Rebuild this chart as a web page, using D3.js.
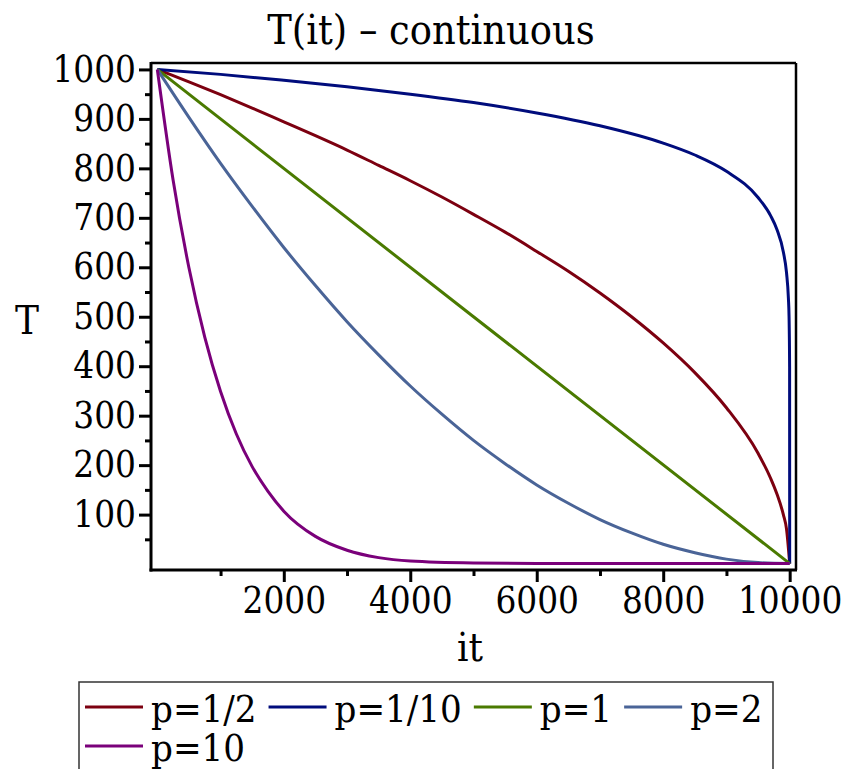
<!DOCTYPE html>
<html><head><meta charset="utf-8">
<script src="https://cdn.jsdelivr.net/npm/d3@7"></script>
<style>
body{margin:0;background:#fff}
svg{display:block}
text{font-family:"DejaVu Serif Condensed","DejaVu Serif",serif;fill:#000}
</style>
</head><body>
<svg id="chart" width="842" height="769"></svg>
<script>
// ---- data ----
const seriesNames  = ["p=1/2", "p=1/10", "p=1", "p=2", "p=10"];
const seriesColors = ["#7c0010", "#000c7c", "#4a7a00", "#4a6497", "#7a007a"];

const itHalf  = [0,500,1000,1500,2000,2500,3000,3500,4000,4500,5000,5500,6000,6500,7000,7500,8000,8500,9000,9500,9700,9800,9900,9950,10000];
const THalf   = [1000,975,949,922,894,866,837,806,775,742,707,671,632,592,548,500,447,387,316,224,173,141,100,71,1];

const itTenth = [0,1000,2000,3000,4000,5000,6000,7000,8000,8500,9000,9500,9700,9800,9900,9950,9980,9990,9999,10000];
const TTenth  = [1000,990,978,965,950,933,912,886,851,827,794,741,704,676,631,589,537,501,398,1];

const itOne   = [0,5000,10000];
const TOne    = [1000,500,1];

const itTwo   = [0,500,1000,1500,2000,2500,3000,3500,4000,4500,5000,5500,6000,6500,7000,7500,8000,8500,9000,9500,10000];
const TTwo    = [1000,903,810,723,640,563,490,423,360,303,250,203,160,123,90,63,40,23,10,3,1];

const itTen   = [0,250,500,750,1000,1250,1500,1750,2000,2500,3000,3500,4000,5000,6000,7000,8000,9000,10000];
const TTen    = [1000,776,599,459,349,263,197,147,107,56,28,13,6,2,1,1,1,1,1];

const xMajorTicks = [2000,4000,6000,8000,10000];
const xMinorTicks = [1000,3000,5000,7000,9000];
const yMajorTicks = [100,200,300,400,500,600,700,800,900,1000];
const yMinorTicks = [50,150,250,350,450,550,650,750,850,950];

const titleText = "T(it) – continuous";
const xLabel = "it";
const yLabel = "T";

// ---- layout ----
const svg = d3.select("#chart");
const L = 151, R = 796, Tp = 63, B = 570;
const x = d3.scaleLinear().domain([-100, 10100]).range([L, R]);
const y = d3.scaleLinear().domain([-12, 1013]).range([B, Tp]);

const series = [
  {xs: itHalf, ys: THalf},
  {xs: itTenth, ys: TTenth},
  {xs: itOne, ys: TOne},
  {xs: itTwo, ys: TTwo},
  {xs: itTen, ys: TTen}
].map((s, i) => ({name: seriesNames[i], color: seriesColors[i],
                  pts: s.xs.map((v, j) => [v, s.ys[j]])}));

// title
svg.append("text").attr("x", 431).attr("y", 44).attr("text-anchor", "middle")
  .style("font-size", "41px").text(titleText);

// curves
const line = d3.line().x(d => x(d[0])).y(d => y(d[1])).curve(d3.curveMonotoneX);
svg.append("clipPath").attr("id", "pc").append("rect")
  .attr("x", L).attr("y", Tp).attr("width", R - L).attr("height", B - Tp);
svg.append("g").attr("clip-path", "url(#pc)").selectAll("path").data(series).join("path")
  .attr("d", d => line(d.pts)).attr("fill", "none").attr("stroke", d => d.color)
  .attr("stroke-width", 3).attr("stroke-linejoin", "round");

// axes
const yAxis = d3.axisLeft(y).tickValues(yMajorTicks).tickSize(12).tickPadding(3).tickFormat(d3.format("d"));
const yMinor = d3.axisLeft(y).tickValues(yMinorTicks).tickSize(6).tickFormat("");
const xAxis = d3.axisBottom(x).tickValues(xMajorTicks).tickSize(12).tickPadding(5).tickFormat(d3.format("d"));
const xMinor = d3.axisBottom(x).tickValues(xMinorTicks).tickSize(6).tickFormat("");

function styleAxis(g) {
  g.select(".domain").remove();
  g.selectAll(".tick line").attr("stroke", "#000").attr("stroke-width", 3);
  g.selectAll(".tick text").style("font-size", "36.5px").attr("fill", "#000");
}
svg.append("g").attr("transform", `translate(${L},0)`).call(yAxis).call(styleAxis);
svg.append("g").attr("transform", `translate(${L},0)`).call(yMinor).call(styleAxis);
svg.append("g").attr("transform", `translate(0,${B})`).call(xAxis).call(styleAxis);
svg.append("g").attr("transform", `translate(0,${B})`).call(xMinor).call(styleAxis);

// frame
svg.append("line").attr("x1", L).attr("x2", R).attr("y1", Tp).attr("y2", Tp).attr("stroke", "#000").attr("stroke-width", 2.5);
svg.append("line").attr("x1", R).attr("x2", R).attr("y1", Tp).attr("y2", B).attr("stroke", "#000").attr("stroke-width", 2.5);
svg.append("line").attr("x1", L).attr("x2", L).attr("y1", Tp - 1).attr("y2", B + 1.5).attr("stroke", "#000").attr("stroke-width", 3);
svg.append("line").attr("x1", L - 1.5).attr("x2", R + 1).attr("y1", B).attr("y2", B).attr("stroke", "#000").attr("stroke-width", 3);

// axis labels
svg.append("text").attr("x", 27).attr("y", 334).attr("text-anchor", "middle").style("font-size", "40px").text(yLabel);
svg.append("text").attr("x", 470).attr("y", 661).attr("text-anchor", "middle").style("font-size", "40px").text(xLabel);

// legend
const lg = svg.append("g");
lg.append("rect").attr("x", 79).attr("y", 682).attr("width", 694).attr("height", 100)
  .attr("fill", "none").attr("stroke", "#333").attr("stroke-width", 1.5);
let cx = 85, row = 0;
const rowY = [707, 746];
series.forEach((s, i) => {
  const t = lg.append("text").style("font-size", "38px").text(s.name);
  const w = t.node().getComputedTextLength();
  if (cx + 66 + w > 772) { row += 1; cx = 85; }
  lg.append("line").attr("x1", cx).attr("x2", cx + 58).attr("y1", rowY[row]).attr("y2", rowY[row])
    .attr("stroke", s.color).attr("stroke-width", 3);
  t.attr("x", cx + 66).attr("y", rowY[row] + 15);
  cx += 66 + w + 12;
});
</script>
</body></html>
